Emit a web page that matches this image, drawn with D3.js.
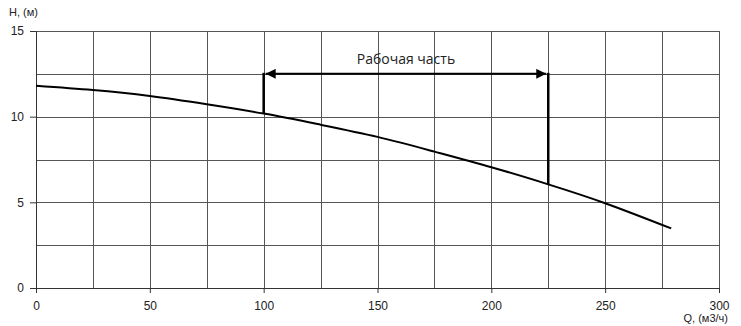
<!DOCTYPE html>
<html>
<head>
<meta charset="utf-8">
<script src="https://cdn.jsdelivr.net/npm/d3@7"></script>
<style>
  body { margin: 0; background: #fff; }
  text { font-family: "Liberation Sans", Arial, sans-serif; }
</style>
</head>
<body>
<div id="chart"></div>
<script>
// curve: Q (m3/h) -> H (m)
const flowQ = [0, 25, 50, 75, 100, 125, 150, 175, 200, 225, 250, 279];
const headH = [11.8, 11.55, 11.2, 10.72, 10.18, 9.53, 8.82, 7.96, 7.05, 6.05, 4.95, 3.48];
const xTicks = [0, 50, 100, 150, 200, 250, 300];
const yTicks = [0, 5, 10, 15];
const workRange = [100, 225];
const workLevel = 12.5;
const workLabel = "Рабочая часть";

const W = 741, H = 326;
const margin = { top: 31, right: 22, bottom: 38, left: 36 };
const width = W - margin.left - margin.right;
const height = H - margin.top - margin.bottom;

const svg = d3.select("#chart").append("svg")
  .attr("width", W).attr("height", H);

const defs = svg.append("defs");
defs.append("marker")
  .attr("id", "arr")
  .attr("viewBox", "0 0 10 10")
  .attr("refX", 10).attr("refY", 5)
  .attr("markerWidth", 6).attr("markerHeight", 5)
  .attr("markerUnits", "strokeWidth")
  .attr("orient", "auto-start-reverse")
  .append("path").attr("d", "M0,0 L10,5 L0,10 Z").attr("fill", "#000");

const g = svg.append("g").attr("transform", `translate(${margin.left},${margin.top})`);

const x = d3.scaleLinear().domain([0, 300]).range([0, width]);
const y = d3.scaleLinear().domain([0, 15]).range([height, 0]);

// grid: every 25 on Q, every 2.5 on H
g.append("g").selectAll("line")
  .data(d3.range(0, 301, 25))
  .enter().append("line")
  .attr("x1", d => Math.round(x(d)) + 0.5).attr("x2", d => Math.round(x(d)) + 0.5)
  .attr("y1", 0).attr("y2", height)
  .attr("stroke", "#555").attr("stroke-width", 1);

g.append("g").selectAll("line")
  .data(d3.range(0, 15.01, 2.5))
  .enter().append("line")
  .attr("y1", d => Math.round(y(d)) + 0.5).attr("y2", d => Math.round(y(d)) + 0.5)
  .attr("x1", 0).attr("x2", width)
  .attr("stroke", "#555").attr("stroke-width", 1);

// axes
const xAxis = g.append("g")
  .attr("transform", `translate(0,${height})`)
  .call(d3.axisBottom(x).tickValues(xTicks).tickSize(5).tickPadding(8));
const yAxis = g.append("g")
  .call(d3.axisLeft(y).tickValues(yTicks).tickSize(6).tickPadding(6));
[xAxis, yAxis].forEach(a => {
  a.select(".domain").attr("stroke", "#333");
  a.selectAll(".tick line").attr("stroke", "#333");
  a.selectAll("text").attr("font-size", 12).attr("fill", "#222")
    .style("font-family", "'Liberation Sans', Arial, sans-serif");
});

// axis titles
svg.append("text").attr("x", 9).attr("y", 16)
  .attr("font-size", 11).attr("fill", "#222").text("H, (м)");
svg.append("text").attr("x", 728).attr("y", 322).attr("text-anchor", "end")
  .attr("font-size", 11).attr("fill", "#222").text("Q, (м3/ч)");

// H-Q curve
const line = d3.line().x(d => x(d[0])).y(d => y(d[1])).curve(d3.curveNatural);
g.append("path")
  .datum(flowQ.map((q, i) => [q, headH[i]]))
  .attr("d", line)
  .attr("fill", "none").attr("stroke", "#000").attr("stroke-width", 2);

// working range markers
const headAt = q => {
  const i = d3.bisectLeft(flowQ, q);
  if (flowQ[i] === q) return headH[i];
  const t = (q - flowQ[i - 1]) / (flowQ[i] - flowQ[i - 1]);
  return headH[i - 1] + t * (headH[i] - headH[i - 1]);
};
g.append("g").selectAll("line")
  .data(workRange)
  .enter().append("line")
  .attr("x1", d => x(d)).attr("x2", d => x(d))
  .attr("y1", y(workLevel) - 1).attr("y2", d => y(headAt(d)))
  .attr("stroke", "#000").attr("stroke-width", 2.5);

g.append("line")
  .attr("x1", x(workRange[0]) + 2).attr("x2", x(workRange[1]) - 2)
  .attr("y1", y(workLevel)).attr("y2", y(workLevel))
  .attr("stroke", "#000").attr("stroke-width", 2)
  .attr("marker-start", "url(#arr)").attr("marker-end", "url(#arr)");

g.append("text")
  .attr("x", x((workRange[0] + workRange[1]) / 2))
  .attr("y", y(workLevel) - 10)
  .attr("text-anchor", "middle")
  .attr("font-size", 14).attr("fill", "#222")
  .style("font-family", "'Open Sans', 'Liberation Sans', sans-serif")
  .text(workLabel);
</script>
</body>
</html>
